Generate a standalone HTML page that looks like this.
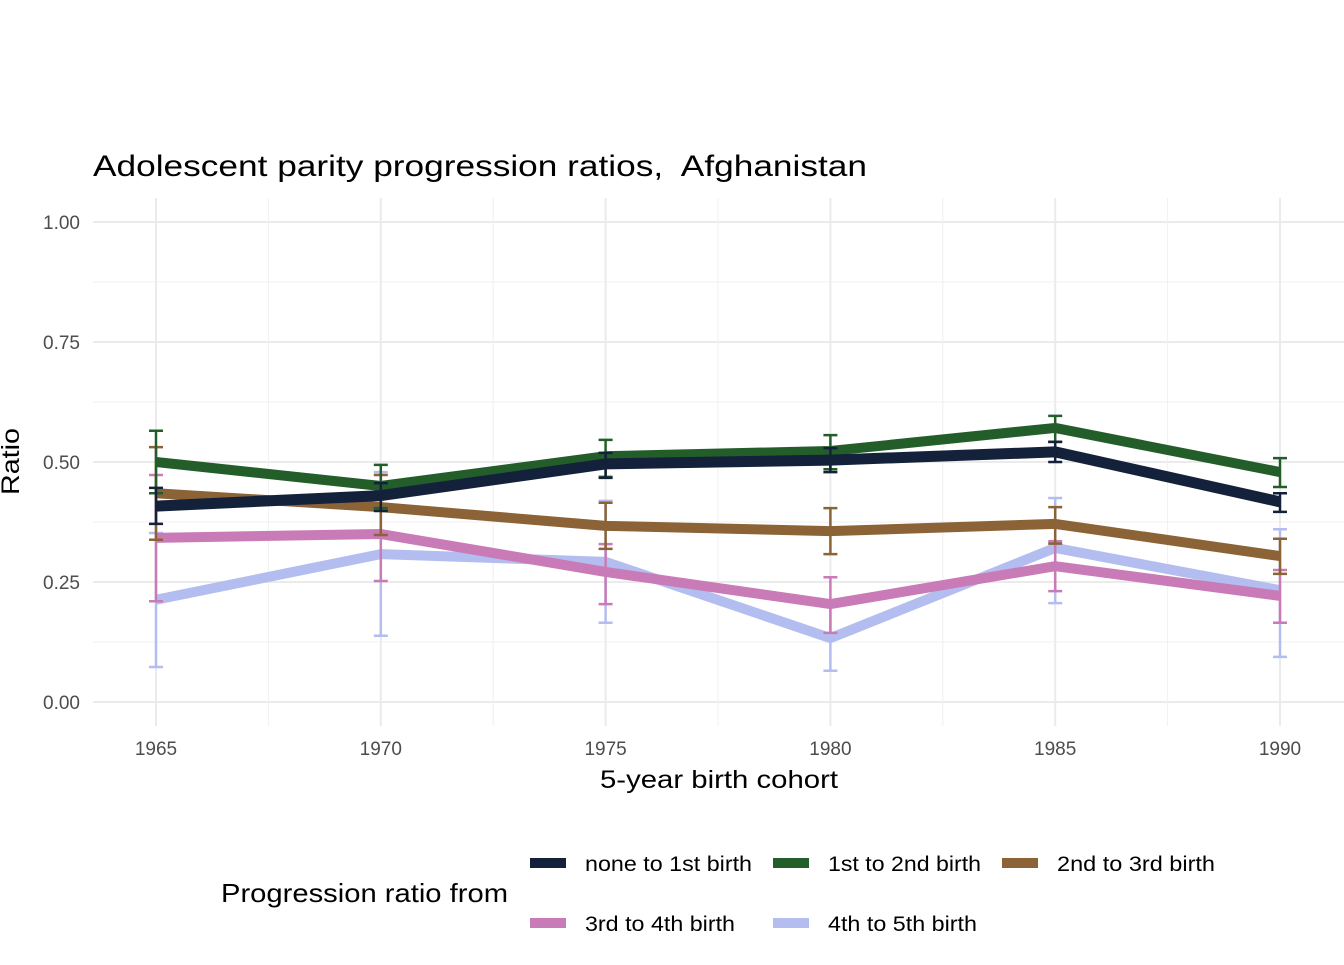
<!DOCTYPE html>
<html><head><meta charset="utf-8"><style>
body{margin:0;background:#fff}
svg text{font-family:"Liberation Sans",Arial,sans-serif}
</style></head><body>
<svg id="chart" width="1344" height="960" viewBox="0 0 1344 960">
<g id="grid"></g>
<g id="series"></g>
<g id="axes"></g>
<text x="93" y="176" style="font-size:30px" textLength="774" lengthAdjust="spacingAndGlyphs" fill="#000">Adolescent parity progression ratios,&#160; Afghanistan</text>
<text x="600" y="788" style="font-size:25px" textLength="238" lengthAdjust="spacingAndGlyphs">5-year birth cohort</text>
<text transform="translate(19,495) rotate(-90)" style="font-size:25px" textLength="67" lengthAdjust="spacingAndGlyphs">Ratio</text>
<g id="legend">
<text x="221" y="902" style="font-size:26px" textLength="287" lengthAdjust="spacingAndGlyphs">Progression ratio from</text>
</g>
</svg>
<script>
const years=[1965,1970,1975,1980,1985,1990];
const yTicks=[0,0.25,0.5,0.75,1.0];
const yTickLabels=["0.00","0.25","0.50","0.75","1.00"];
const seriesNames=["none to 1st birth","1st to 2nd birth","2nd to 3rd birth","3rd to 4th birth","4th to 5th birth"];
const seriesColors=["#14213a","#235e2a","#8b6337","#c97bb8","#b3bdef"];
const v0=[0.408,0.43,0.496,0.504,0.521,0.417];
const lo0=[0.371,0.398,0.467,0.479,0.5,0.396];
const hi0=[0.446,0.456,0.519,0.529,0.542,0.435];
const v1=[0.5,0.45,0.512,0.523,0.571,0.479];
const lo1=[0.435,0.404,0.469,0.485,0.542,0.448];
const hi1=[0.565,0.494,0.546,0.556,0.596,0.508];
const v2=[0.435,0.406,0.367,0.356,0.371,0.304];
const lo2=[0.338,0.348,0.319,0.308,0.33,0.267];
const hi2=[0.531,0.473,0.415,0.404,0.406,0.34];
const v3=[0.342,0.35,0.271,0.204,0.283,0.221];
const lo3=[0.21,0.252,0.204,0.144,0.231,0.165];
const hi3=[0.473,0.446,0.329,0.26,0.335,0.275];
const v4=[0.213,0.308,0.292,0.133,0.321,0.233];
const lo4=[0.073,0.138,0.165,0.065,0.206,0.094];
const hi4=[0.352,0.479,0.419,0.202,0.425,0.36];
const vals=[v0,v1,v2,v3,v4],los=[lo0,lo1,lo2,lo3,lo4],his=[hi0,hi1,hi2,hi3,hi4];
const legendWidths=[167,153,158,150,149];
const NS="http://www.w3.org/2000/svg";
const xS=y=>156+(y-1965)*(1280-156)/25;
const yS=v=>702-v*480;
function mk(tag,attrs,parent){const e=document.createElementNS(NS,tag);for(const k in attrs)e.setAttribute(k,attrs[k]);parent.appendChild(e);return e;}
const grid=document.getElementById('grid'),axes=document.getElementById('axes'),ser=document.getElementById('series'),leg=document.getElementById('legend');
for(let i=0;i<yTicks.length;i++){
  const y=yS(yTicks[i]);
  const l=mk('line',{x1:93,x2:1344,y1:y,y2:y,stroke:'#ebebeb','stroke-width':2},grid);
  
  if(i<yTicks.length-1){const ym=yS((yTicks[i]+yTicks[i+1])/2);
    const m=mk('line',{x1:93,x2:1344,y1:ym,y2:ym,stroke:'#f0f0f0','stroke-width':1},grid);
    }
  const t=mk('text',{x:80,y:y+7,style:'font-size:19px','text-anchor':'end',fill:'#4d4d4d'},axes);t.textContent=yTickLabels[i];
  
}
for(let i=0;i<years.length;i++){
  const x=xS(years[i]);
  const l=mk('line',{x1:x,x2:x,y1:198,y2:726,stroke:'#ebebeb','stroke-width':2},grid);
  
  if(i<years.length-1){const xm=xS(years[i]+2.5);
    const m=mk('line',{x1:xm,x2:xm,y1:198,y2:726,stroke:'#f0f0f0','stroke-width':1},grid);
    }
  const t=mk('text',{x:x,y:755,style:'font-size:19px','text-anchor':'middle',fill:'#4d4d4d'},axes);t.textContent=years[i];
  
}
const order=[4,3,2,1,0];
order.forEach(s=>{
  const g=mk('g',{},ser);
  
  const pts=years.map((y,i)=>xS(y)+','+yS(vals[s][i])).join(' ');
  const pl=mk('polyline',{points:pts,fill:'none',stroke:seriesColors[s],'stroke-width':s==0?11:10,'stroke-linejoin':'round'},g);
  
  years.forEach((y,i)=>{
    const x=xS(y),a=yS(los[s][i]),b=yS(his[s][i]);
    const eb=mk('path',{d:`M${x},${a}V${b}M${x-7},${a}H${x+7}M${x-7},${b}H${x+7}`,stroke:seriesColors[s],'stroke-width':2.5,fill:'none'},g);
    
  });
});
const legPos=[[530,863],[773,863],[1002,863],[530,923],[773,923]];
seriesNames.forEach((n,s)=>{
  const g=mk('g',{},leg);
  
  const [x,y]=legPos[s];
  mk('line',{x1:x,x2:x+36,y1:y,y2:y,stroke:seriesColors[s],'stroke-width':10},g);
  const t=mk('text',{x:x+55,y:y+8,style:'font-size:21px',textLength:legendWidths[s],lengthAdjust:'spacingAndGlyphs'},g);t.textContent=n;
});
</script>
</body></html>
